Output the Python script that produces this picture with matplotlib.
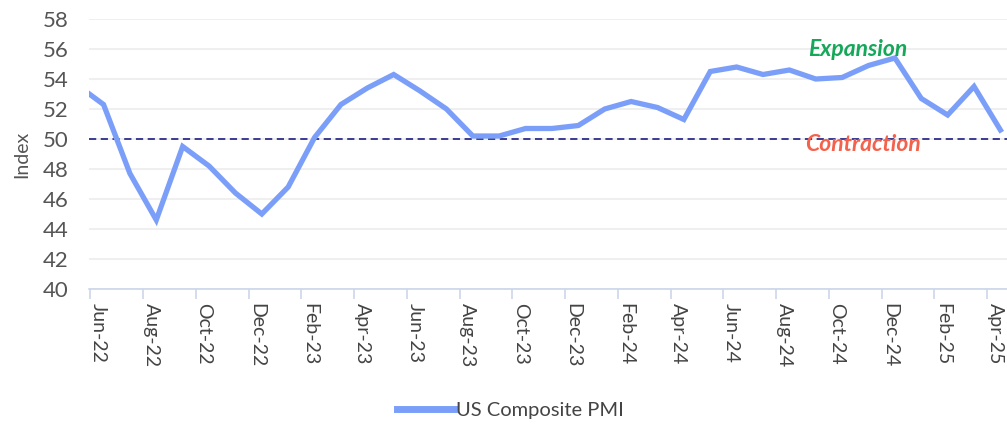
import matplotlib
matplotlib.use("Agg")
import matplotlib.pyplot as plt
from matplotlib.lines import Line2D

# US Composite PMI, May-22 .. Apr-25 (monthly)
months = ["May-22", "Jun-22", "Jul-22", "Aug-22", "Sep-22", "Oct-22", "Nov-22", "Dec-22",
          "Jan-23", "Feb-23", "Mar-23", "Apr-23", "May-23", "Jun-23", "Jul-23", "Aug-23",
          "Sep-23", "Oct-23", "Nov-23", "Dec-23", "Jan-24", "Feb-24", "Mar-24", "Apr-24",
          "May-24", "Jun-24", "Jul-24", "Aug-24", "Sep-24", "Oct-24", "Nov-24", "Dec-24",
          "Jan-25", "Feb-25", "Mar-25", "Apr-25"]
pmi = [53.6, 52.3, 47.7, 44.6, 49.5, 48.2, 46.4, 45.0,
       46.8, 50.1, 52.3, 53.4, 54.3, 53.2, 52.0, 50.2,
       50.2, 50.7, 50.7, 50.9, 52.0, 52.5, 52.1, 51.3,
       54.5, 54.8, 54.3, 54.6, 54.0, 54.1, 54.9, 55.4,
       52.7, 51.6, 53.5, 50.6]
threshold = 50
yticks = list(range(40, 59, 2))

plt.rcParams['font.family'] = ['Lato', 'DejaVu Sans']

fig = plt.figure(figsize=(10.07, 4.25), dpi=100)
ax = fig.add_axes([0.0884, 0.32, 0.9116, 0.6353])

x = list(range(len(months)))
ax.plot(x, pmi, color="#7b9ff9", lw=3.8, solid_joinstyle="miter", zorder=3)
ax.axhline(threshold, color="#2d2d8c", lw=1.3, ls=(0, (4, 2.5)), zorder=2)

ax.text(29.6, 55.95, "Expansion", color="#16a85a", fontsize=16.5,
        fontweight="bold", style="italic", ha="center", va="center")
ax.text(29.8, 49.6, "Contraction", color="#f4624c", fontsize=16.5,
        fontweight="bold", style="italic", ha="center", va="center")

ax.set_xlim(0.45, 35.25)
ax.set_ylim(40, 58)
ax.set_yticks(yticks)
ax.tick_params(axis="y", length=0, labelsize=16, labelcolor="#555555", pad=15)
ax.yaxis.grid(True, color="#ececec", lw=1.2)
ax.set_axisbelow(True)
ax.set_ylabel("Index", fontsize=14, color="#555555", labelpad=9)

# labels every 2 months, tick marks at category boundaries
lab_idx = x[1::2]
ax.set_xticks([i - 0.2 for i in lab_idx])
ax.set_xticklabels([months[i] for i in lab_idx], rotation=-90, fontsize=14,
                   color="#444444")
ax.tick_params(axis="x", which="major", length=0, pad=10)
ax.set_xticks([i - 0.5 for i in lab_idx], minor=True)
ax.tick_params(axis="x", which="minor", length=7, width=1.2, color="#ccd6eb")

for s in ["top", "right", "left"]:
    ax.spines[s].set_visible(False)
ax.spines["bottom"].set_color("#ccd6eb")
ax.spines["bottom"].set_linewidth(1.2)

handle = Line2D([], [], color="#7b9ff9", lw=5)
fig.legend([handle], ["US Composite PMI"], loc="center", bbox_to_anchor=(0.507, 0.035),
           frameon=False, fontsize=14.5, handlelength=2.8, handletextpad=0.1,
           labelcolor="#444444")

fig.savefig("out.png", dpi=100)
